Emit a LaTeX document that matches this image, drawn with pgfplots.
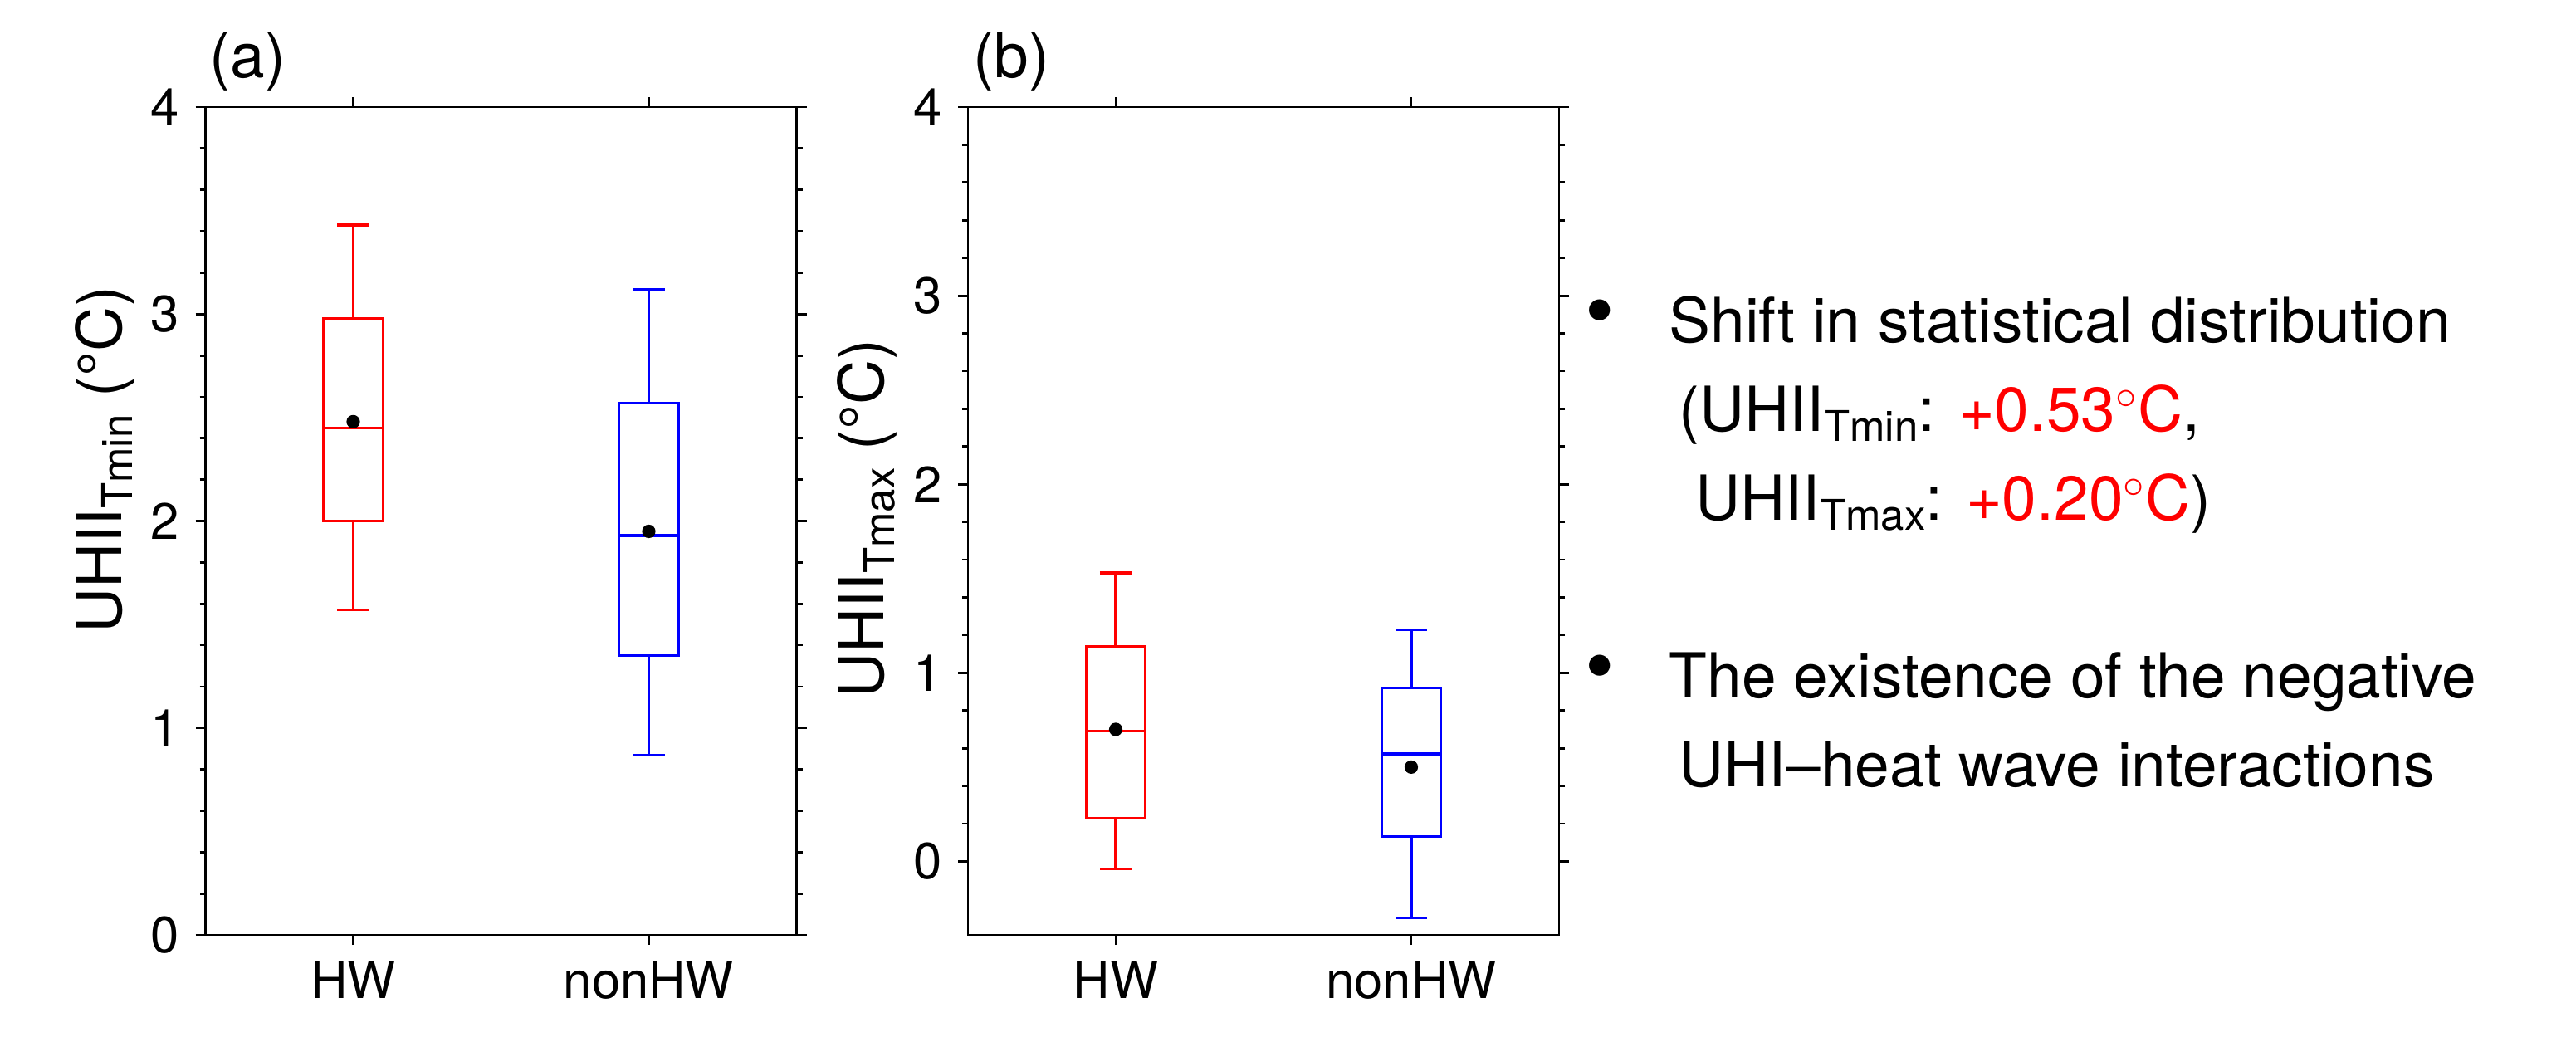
\documentclass[border=0pt]{standalone}
\usepackage{fontspec}
\setmainfont{TeX Gyre Heros}
\usepackage{graphicx}
\usepackage{pgfplots}
\pgfplotsset{compat=1.18}
\usepgfplotslibrary{statistics}

\newcommand{\sub}[1]{\raisebox{-0.17em}{\scalebox{0.68}{#1}}}
\newcommand{\tickfont}{\fontsize{17.5pt}{20pt}\selectfont}
\newcommand{\bigfont}{\fontsize{21.3pt}{25pt}\selectfont}

\pgfplotsset{
  uhii/.style={
    scale only axis, width=7.12cm, height=9.97cm,
    xmin=-0.5, xmax=1.5, xtick={0,1}, xticklabels={HW,nonHW},
    tick align=outside, tick pos=both,
    major tick length=0.12cm, minor tick length=0.07cm,
    ytick={0,1,2,3,4}, minor y tick num=4, ymax=4,
    axis line style={line width=0.8pt},
    every tick/.style={black, line width=0.8pt},
    ticklabel style={font=\tickfont},
    /pgf/number format/assume math mode=true,
    label style={font=\bigfont},
    yticklabel style={xshift=-2pt},
    xticklabel style={yshift=-2pt},
    boxplot/draw direction=y,
  },
}

\begin{document}
\begin{tikzpicture}
\path (0,0) rectangle (31.03cm,12.6cm);

% (a) UHII Tmin
\begin{axis}[uhii, at={(2.475cm,1.34cm)}, anchor=south west, ymin=0,
  ylabel={UHII\sub{Tmin} (\textdegree C)},
  y label style={at={(axis description cs:-0.142,0.574)}, anchor=base}]
\addplot[red, line width=0.9pt, boxplot prepared={draw position=0,
  lower whisker=1.57, lower quartile=2.00, median=2.45,
  upper quartile=2.98, upper whisker=3.43,
  box extend=0.2, whisker extend=0.107}] coordinates {};
\addplot[blue, line width=0.9pt, boxplot prepared={draw position=1,
  lower whisker=0.87, lower quartile=1.35, median=1.93,
  upper quartile=2.57, upper whisker=3.12,
  box extend=0.2, whisker extend=0.107}] coordinates {};
% means
\addplot[only marks, mark=*, mark size=2.1pt, black] coordinates {(0,2.48) (1,1.95)};
\end{axis}

% (b) UHII Tmax
\begin{axis}[uhii, at={(11.66cm,1.34cm)}, anchor=south west, ymin=-0.39,
  ylabel={UHII\sub{Tmax} (\textdegree C)},
  y label style={at={(axis description cs:-0.142,0.503)}, anchor=base}]
\addplot[red, line width=0.9pt, boxplot prepared={draw position=0,
  lower whisker=-0.04, lower quartile=0.23, median=0.69,
  upper quartile=1.14, upper whisker=1.53,
  box extend=0.2, whisker extend=0.107}] coordinates {};
\addplot[blue, line width=0.9pt, boxplot prepared={draw position=1,
  lower whisker=-0.30, lower quartile=0.13, median=0.57,
  upper quartile=0.92, upper whisker=1.23,
  box extend=0.2, whisker extend=0.107}] coordinates {};
\addplot[only marks, mark=*, mark size=2.1pt, black] coordinates {(0,0.70) (1,0.50)};
\end{axis}

\node[font=\bigfont, anchor=base west, inner sep=0] at (2.52cm,11.67cm) {(a)};
\node[font=\bigfont, anchor=base west, inner sep=0] at (11.72cm,11.67cm) {(b)};

% notes on the right
\node[font=\bigfont, inner sep=0] at (19.275cm,8.75cm) {\scalebox{1.35}{\textbullet}};
\node[font=\bigfont, anchor=base west, inner sep=0] at (20.10cm,8.48cm) {Shift in statistical distribution};
\node[font=\bigfont, anchor=base west, inner sep=0] at (20.22cm,7.41cm) {(UHII\sub{Tmin}: \textcolor{red}{+0.53${}^{\circ}$C},};
\node[font=\bigfont, anchor=base west, inner sep=0] at (20.42cm,6.34cm) {UHII\sub{Tmax}: \textcolor{red}{+0.20${}^{\circ}$C})};
\node[font=\bigfont, inner sep=0] at (19.275cm,4.47cm) {\scalebox{1.35}{\textbullet}};
\node[font=\bigfont, anchor=base west, inner sep=0] at (20.10cm,4.20cm) {The existence of the negative};
\node[font=\bigfont, anchor=base west, inner sep=0] at (20.22cm,3.13cm) {UHI–heat wave interactions};
\end{tikzpicture}
\end{document}
